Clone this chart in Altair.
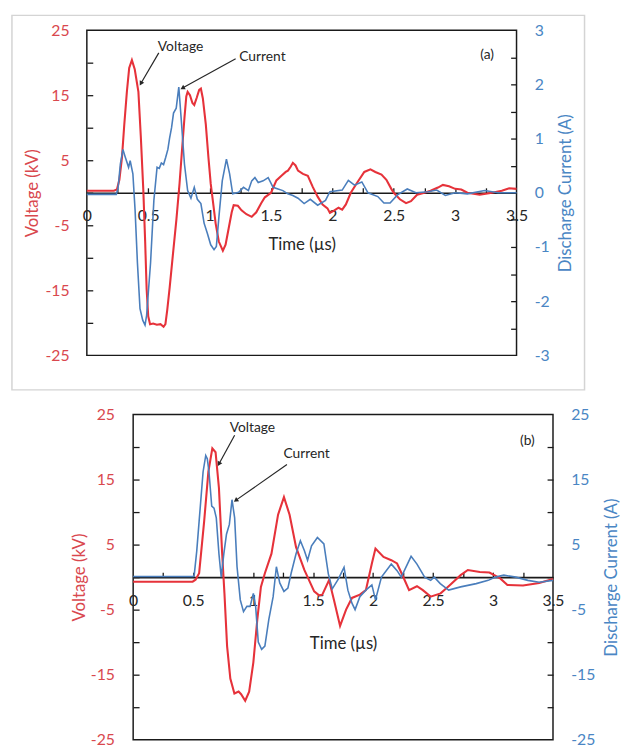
import altair as alt
import pandas as pd

# ---------------- data: panel (a) ----------------
a_volt_t = [0, 0.22, 0.245, 0.265, 0.286, 0.305, 0.326, 0.345, 0.367, 0.39, 0.42, 0.44, 0.46,
            0.475, 0.487, 0.5, 0.515, 0.54, 0.57, 0.6, 0.625, 0.64, 0.655, 0.675, 0.7, 0.73,
            0.755, 0.775, 0.795, 0.81, 0.821, 0.84, 0.86, 0.875, 0.895, 0.915, 0.929, 0.945,
            0.969, 0.99, 1.009, 1.03, 1.049, 1.075, 1.108, 1.13, 1.155, 1.18, 1.196, 1.23,
            1.26, 1.3, 1.343, 1.38, 1.42, 1.45, 1.5, 1.544, 1.585, 1.62, 1.638, 1.66, 1.678,
            1.7, 1.72, 1.76, 1.8, 1.84, 1.88, 1.92, 1.96, 1.98, 2.01, 2.05, 2.08, 2.11, 2.15,
            2.2, 2.26, 2.31, 2.35, 2.4, 2.44, 2.48, 2.5, 2.55, 2.6, 2.64, 2.69, 2.75, 2.8,
            2.86, 2.9, 2.95, 3.0, 3.05, 3.1, 3.2, 3.3, 3.38, 3.44, 3.5]
a_volt_kv = [0.3, 0.3, 0.5, 2, 5.4, 10.5, 15.5, 19.2, 20.4, 19, 15.5, 8.5, 0.4,
             -7.5, -14.8, -19, -20.2, -20.1, -20.3, -20.2, -20.6, -20.2, -18, -14.5, -9.7, -4,
             1.4, 6.5, 11.5, 14.8, 15.5, 15, 13.8, 13.5, 14.6, 15.8, 16, 14.5,
             10.5, 5.5, 1.4, -1.8, -4.7, -7.5, -8.9, -8, -5.5, -3, -1.9, -2,
             -2.7, -3.3, -3.7, -3, -1.6, -0.7, 0, 1.9, 2.6, 3.2, 3.4, 4, 4.6,
             4.2, 3.4, 2.9, 2.6, 0.9, -0.6, -1.8, -2.4, -3.1, -2.8, -2.3, -2.6, -1.8, 0,
             1.5, 3.2, 3.6, 3.2, 2.8, 2, 0.6, 0, -1, -1.6, -1.3, -0.3, 0, 0.3,
             0.8, 1.2, 1, 0.6, 0.5, 0, -0.3, 0, 0.3, 0.7, 0.6]

a_curr_t = [0, 0.24, 0.255, 0.273, 0.294, 0.31, 0.34, 0.353, 0.375, 0.393, 0.412, 0.433, 0.455,
            0.474, 0.487, 0.519, 0.546, 0.572, 0.59, 0.607, 0.625, 0.642, 0.66, 0.674, 0.69,
            0.706, 0.728, 0.749, 0.768, 0.795, 0.821, 0.848, 0.875, 0.9, 0.929, 0.955, 0.982,
            1.009, 1.036, 1.055, 1.076, 1.103, 1.137, 1.163, 1.188, 1.236, 1.276, 1.316, 1.343,
            1.369, 1.396, 1.436, 1.477, 1.517, 1.557, 1.597, 1.637, 1.678, 1.72, 1.77, 1.82,
            1.88, 1.944, 1.98, 2.08, 2.13, 2.18, 2.24, 2.29, 2.37, 2.42, 2.47, 2.53, 2.61,
            2.68, 2.78, 2.85, 2.92, 3.0, 3.1, 3.24, 3.35, 3.5]
a_curr_A = [-0.03, -0.03, 0.1, 0.53, 0.8, 0.68, 0.47, 0.59, 0.35, -0.32, -1.29, -2.14, -2.35,
            -2.44, -2.26, -1.29, -0.14, 0.47, 0.45, 0.55, 0.52, 0.65, 0.8, 1.01, 1.2,
            1.47, 1.56, 1.95, 1.38, 0.53, 0.04, -0.1, 0.1, -0.12, -0.2, -0.56, -0.75,
            -0.96, -1.05, -0.99, -0.44, 0.22, 0.62, 0.35, -0.02, 0.01, 0.1, 0.04, 0.22,
            0.28, 0.19, 0.22, 0.28, 0.1, 0.07, 0.04, -0.02, -0.05, -0.1, -0.2, -0.12,
            -0.23, -0.14, 0.02, 0.05, 0.23, 0.14, 0.2, 0.0, -0.07, -0.19, -0.19, -0.04, 0.07,
            0.0, 0.02, 0.05, -0.05, 0.0, -0.02, 0.04, 0.0, 0.0]

# ---------------- data: panel (b) ----------------
b_volt_t = [0, 0.496, 0.52, 0.55, 0.592, 0.627, 0.66, 0.687, 0.715, 0.742, 0.761, 0.783, 0.81,
            0.844, 0.879, 0.9, 0.934, 0.967, 1.002, 1.035, 1.065, 1.098, 1.153, 1.208, 1.257,
            1.304, 1.358, 1.427, 1.509, 1.55, 1.577, 1.633, 1.674, 1.725, 1.775, 1.824, 1.89,
            1.94, 1.99, 2.02, 2.087, 2.152, 2.2, 2.25, 2.3, 2.366, 2.415, 2.48, 2.563, 2.63,
            2.73, 2.79, 2.89, 2.97, 3.06, 3.12, 3.25, 3.385, 3.5]
b_volt_kv = [-0.7, -0.7, -0.4, 0.6, 8.6, 16.2, 19.8, 19.2, 13.7, 3.6, -2.5, -10.6, -15.6,
             -17.9, -17.6, -18.0, -19.0, -17.6, -13.1, -6.5, -1.5, 0.6, 3.6, 9.6, 12.3,
             9.6, 4.6, 1.1, -2.2, -2.8, -2.7, -0.45, -3.5, -7.5, -5, -3.2, -2.7,
             -2, 2.1, 4.4, 3.1, 2.6, 2.1, 0.1, -2.0, -1.4, -2.0, -3.0, -2.5, -1.4,
             0.3, 1.1, 0.8, 0.7, -0.2, -1.2, -1.3, -0.9, -0.3]

b_curr_t = [0, 0.5, 0.509, 0.53, 0.55, 0.583, 0.605, 0.618, 0.632, 0.655, 0.674, 0.693, 0.715,
            0.734, 0.756, 0.778, 0.802, 0.824, 0.846, 0.866, 0.893, 0.92, 0.948, 0.975, 1.002,
            1.021, 1.043, 1.071, 1.098, 1.131, 1.167, 1.194, 1.222, 1.257, 1.29, 1.317, 1.358,
            1.394, 1.427, 1.454, 1.487, 1.536, 1.59, 1.627, 1.66, 1.71, 1.758, 1.79, 1.824,
            1.85, 1.89, 1.94, 1.99, 2.02, 2.07, 2.152, 2.2, 2.235, 2.317, 2.366, 2.43, 2.48,
            2.51, 2.56, 2.63, 2.73, 2.86, 2.96, 3.02, 3.09, 3.19, 3.29, 3.385, 3.5]
b_curr_A = [0.1, 0.1, 0.3, 4, 8.6, 16.2, 18.7, 18.2, 16.2, 10.9, 10.6, 9.1, 3.6,
            0, 3.6, 6.6, 8.1, 11.9, 9.1, 1.6, -3.5, -5.3, -4.5, -4.5, -2.5,
            -4.5, -10, -11.1, -10.6, -6.5, -3, 1.6, -0.9, -2.2, -1.7, 0.6, 3.6,
            5.6, 4.1, 2.6, 4.8, 6.1, 5.1, 0.5, -1.8, -0.3, 1.5, -2, -4,
            -5, -3, -2, -1.2, -3.5, 0, 2, 1, 0, 3.2, 2, 0, -0.5,
            0, -1, -2, -1.5, -1, -0.5, 0, 0.3, 0, -0.5, -0.8, -0.5]

# ---------------- axis values ----------------
x_label_values = [0, 0.5, 1, 1.5, 2, 2.5, 3, 3.5]
x_tick_values = [0.25, 0.5, 0.75, 1, 1.25, 1.5, 1.75, 2, 2.25, 2.5, 2.75, 3, 3.25]
volt_label_values = [-25, -15, -5, 5, 15, 25]
volt_tick_values = [-20, -15, -10, -5, 0, 5, 10, 15, 20]
a_curr_label_values = [-3, -2, -1, 0, 1, 2, 3]
a_curr_tick_values = [-2.5, -2, -1.5, -1, -0.5, 0, 0.5, 1, 1.5, 2, 2.5]
b_curr_label_values = [-25, -15, -5, 5, 15, 25]
b_curr_tick_values = [-20, -15, -10, -5, 0, 5, 10, 15, 20]

# ---------------- annotations ----------------
a_ann_text = ["Voltage", "Current", "(a)"]
a_ann_t = [0.763, 1.43, 3.26]
a_ann_v = [22.4, 20.9, 21.2]
a_arr_t0 = [0.586, 1.212]
a_arr_v0 = [21.5, 20.6]
a_arr_t1 = [0.44, 0.779]
a_arr_v1 = [16.8, 16.1]
a_arr_ang = [210, 241]

b_ann_text = ["Voltage", "Current", "(b)"]
b_ann_t = [0.994, 1.446, 3.287]
b_ann_v = [22.9, 18.9, 20.9]
b_arr_t0 = [0.846, 1.282]
b_arr_v0 = [21.8, 17.3]
b_arr_t1 = [0.715, 0.855]
b_arr_v1 = [17.4, 11.8]
b_arr_ang = [209, 235]

FONT = "Lato"
RED = "#e6323a"
RED_TXT = "#d9484e"
BLUE = "#4a7ebc"
BLUE_TXT = "#4a86c4"
DARK = "#262626"
BLACK = "#1a1a1a"


def lbl():
    return "toString(datum.value)"


def panel(vt, vv, ct, cv, cdom, clabels, cticks, W, H, p, ann, arr, frame):
    vdf = pd.DataFrame({"t": vt, "v": vv})
    cdf = pd.DataFrame({"t": ct, "c": cv})
    xs = alt.Scale(domain=[0, 3.5], nice=False, zero=False)
    ys = alt.Scale(domain=[-25, 25], nice=False, zero=False)
    cs = alt.Scale(domain=cdom, nice=False, zero=False)

    red_line = alt.Chart(vdf).mark_line(color=RED, strokeWidth=2.1).encode(
        x=alt.X("t:Q", scale=xs, axis=alt.Axis(
            orient="bottom", offset=-H / 2, values=x_label_values, labelExpr=lbl(),
            ticks=False, domain=False, grid=False, labelFlush=False,
            labelPadding=p["xlab"], labelFontSize=16, labelColor=DARK, labelFont=FONT,
            title="Time (µs)", titleFont=FONT, titleFontSize=17, titleFontWeight="normal",
            titleColor=DARK, titlePadding=p["xtitle"])),
        y=alt.Y("v:Q", scale=ys, axis=alt.Axis(
            orient="left", values=volt_label_values, labelExpr=lbl(),
            ticks=False, domain=False, grid=False, labelFlush=False,
            labelPadding=p["llab"], labelFontSize=16, labelColor=RED_TXT, labelFont=FONT,
            title="Voltage (kV)", titleFont=FONT, titleFontSize=17, titleFontWeight="normal",
            titleColor=RED_TXT, titleAngle=270, titleBaseline="bottom",
            titlePadding=p["ltitle"])),
    )
    red_ticks = alt.Chart(vdf).mark_line(opacity=0).encode(
        x=alt.X("t:Q", scale=xs, axis=alt.Axis(
            orient="top", offset=-H / 2, values=x_tick_values, labels=False,
            ticks=True, tickSize=5, tickColor=BLACK, tickWidth=1.3,
            domain=True, domainColor=BLACK, domainWidth=1.6, grid=False, title=None)),
        y=alt.Y("v:Q", scale=ys, axis=alt.Axis(
            orient="right", offset=-W, values=volt_tick_values, labels=False,
            ticks=True, tickSize=6, tickColor=BLACK, tickWidth=1.3,
            domain=False, grid=False, title=None)),
    )

    if frame["visible"]:
        frame_mark = alt.Chart(pd.DataFrame({"k": [0]})).mark_rect(
            fill="white", fillOpacity=0, stroke="#d4d4d4", strokeWidth=1.5)
    else:
        frame_mark = alt.Chart(pd.DataFrame({"k": [0]})).mark_rect(
            fill="white", fillOpacity=0)
    frame_chart = frame_mark.encode(
        x=alt.value(frame["x0"]), x2=alt.value(frame["x1"]),
        y=alt.value(frame["y0"]), y2=alt.value(frame["y1"]))

    ann_df = pd.DataFrame({"label": ann[0], "t": ann[1], "v": ann[2]})
    texts = alt.Chart(ann_df).mark_text(font=FONT, fontSize=14, color=DARK).encode(
        x=alt.X("t:Q", scale=xs, axis=None),
        y=alt.Y("v:Q", scale=ys, axis=None),
        text="label:N")
    arr_df = pd.DataFrame({"t0": arr[0], "v0": arr[1], "t1": arr[2], "v1": arr[3], "ang": arr[4]})
    shafts = alt.Chart(arr_df).mark_rule(color=DARK, strokeWidth=1.2).encode(
        x=alt.X("t0:Q", scale=xs, axis=None),
        y=alt.Y("v0:Q", scale=ys, axis=None),
        x2="t1:Q", y2="v1:Q")
    heads = alt.Chart(arr_df).mark_point(shape="triangle-up", filled=True, size=28,
                                          color=DARK, opacity=1).encode(
        x=alt.X("t1:Q", scale=xs, axis=None),
        y=alt.Y("v1:Q", scale=ys, axis=None),
        angle=alt.Angle("ang:Q", scale=None))

    blue_line = alt.Chart(cdf).mark_line(color=BLUE, strokeWidth=1.6).encode(
        x=alt.X("t:Q", scale=xs, axis=None),
        y=alt.Y("c:Q", scale=cs, axis=alt.Axis(
            orient="right", values=clabels, labelExpr=lbl(),
            ticks=False, domain=False, grid=False, labelFlush=False,
            labelPadding=p["rlab"], labelFontSize=16, labelColor=BLUE_TXT, labelFont=FONT,
            title="Discharge Current (A)", titleFont=FONT, titleFontSize=17,
            titleFontWeight="normal", titleColor=BLUE_TXT, titleAngle=270,
            titleBaseline="top", titlePadding=p["rtitle"])),
    )
    blue_ticks = alt.Chart(cdf).mark_line(opacity=0).encode(
        x=alt.X("t:Q", scale=xs, axis=None),
        y=alt.Y("c:Q", scale=cs, axis=alt.Axis(
            orient="left", offset=-W, values=cticks, labels=False,
            ticks=True, tickSize=6, tickColor=BLACK, tickWidth=1.3,
            domain=False, grid=False, title=None)),
    )

    red_group = alt.layer(frame_chart, red_line, red_ticks, shafts, heads, texts)
    blue_group = alt.layer(blue_line, blue_ticks)
    return alt.layer(red_group, blue_group).resolve_scale(y="independent").properties(
        width=W, height=H, view=alt.ViewBackground(stroke=BLACK, strokeWidth=1.5))


def spacer():
    return alt.Chart(pd.DataFrame({"k": [0]})).mark_point(opacity=0, size=1).encode(
        x=alt.value(0), y=alt.value(0)).properties(
        width=1, height=1, view=alt.ViewBackground(stroke="transparent", strokeWidth=0))


panel_a = panel(a_volt_t, a_volt_kv, a_curr_t, a_curr_A, [-3, 3],
                a_curr_label_values, a_curr_tick_values, 436, 330,
                {"xlab": 15, "xtitle": 14, "llab": 18, "ltitle": 4, "rlab": 18, "rtitle": 9},
                (a_ann_text, a_ann_t, a_ann_v),
                (a_arr_t0, a_arr_v0, a_arr_t1, a_arr_v1, a_arr_ang),
                {"x0": -76, "x1": 505, "y0": -15, "y1": 365, "visible": True})

panel_b = panel(b_volt_t, b_volt_kv, b_curr_t, b_curr_A, [-25, 25],
                b_curr_label_values, b_curr_tick_values, 426, 330,
                {"xlab": 16, "xtitle": 27, "llab": 19, "ltitle": 2, "rlab": 18, "rtitle": 9},
                (b_ann_text, b_ann_t, b_ann_v),
                (b_arr_t0, b_arr_v0, b_arr_t1, b_arr_v1, b_arr_ang),
                {"x0": -124, "x1": 0, "y0": -12, "y1": 0, "visible": False})

row_a = alt.hconcat(spacer(), panel_a, spacing=0)
row_b = alt.hconcat(spacer(), panel_b, spacing=0)

chart = alt.vconcat(row_a, row_b, spacing=10).properties(
    padding={"left": 0, "top": 0, "right": 0, "bottom": 0}, background="white"
).configure_view(stroke=None)

chart.save("out.html", embed_options={"renderer": "svg", "actions": False})
